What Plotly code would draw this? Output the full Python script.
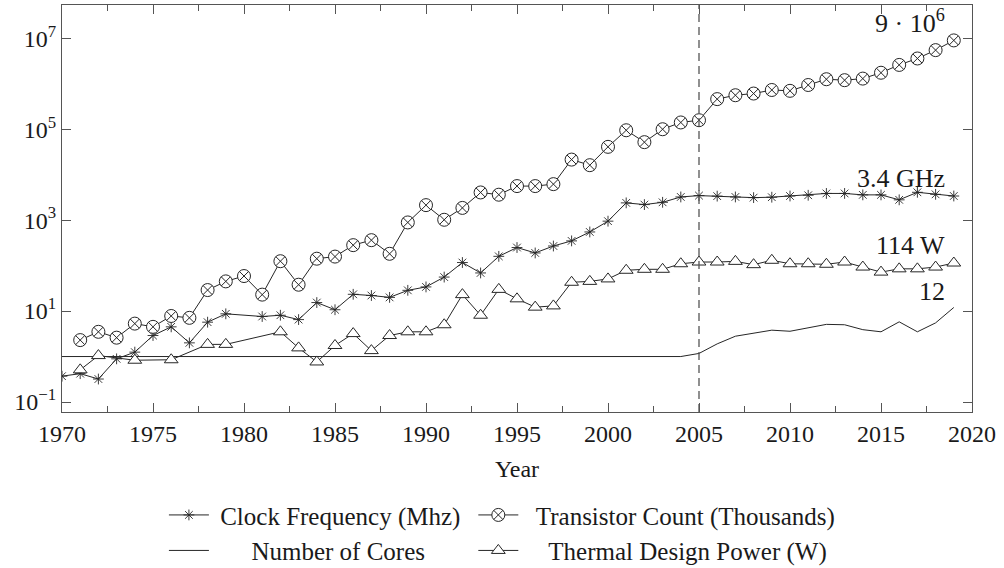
import plotly.graph_objects as go

# ---------------- data ----------------
years_transistor = list(range(1971, 2020))
transistor_count = [2.3, 3.5, 2.6, 5.3, 4.5, 7.8, 7.1, 29, 45, 59,
                    23, 125, 38, 142, 158, 282, 363, 182, 891, 2140,
                    1020, 1860, 4070, 3630, 5620, 5620, 6200, 21500, 16200, 41000,
                    95000, 52000, 100000, 141000, 158000, 460000, 560000, 610000, 730000, 700000,
                    940000, 1260000, 1200000, 1300000, 1750000, 2600000, 3600000, 5500000, 9000000]

years_clock = [1970, 1971, 1972, 1973, 1974, 1975, 1976, 1977, 1978, 1979,
               1981, 1982, 1983, 1984, 1985, 1986, 1987, 1988, 1989, 1990,
               1991, 1992, 1993, 1994, 1995, 1996, 1997, 1998, 1999, 2000,
               2001, 2002, 2003, 2004, 2005, 2006, 2007, 2008, 2009, 2010,
               2011, 2012, 2013, 2014, 2015, 2016, 2017, 2018, 2019]
clock_mhz = [0.37, 0.42, 0.32, 0.89, 1.25, 2.9, 4.5, 2.0, 5.7, 8.7,
             7.6, 8.1, 6.5, 15.4, 10.7, 23.4, 22, 20, 28.6, 34,
             56, 117, 69, 160, 250, 190, 270, 350, 550, 950,
             2400, 2200, 2470, 3240, 3470, 3380, 3240, 3130, 3200, 3400,
             3530, 3870, 3870, 3600, 3600, 2800, 4100, 3700, 3400]

years_tdp = [1971, 1972, 1974, 1976, 1978, 1979, 1982, 1983,
             1984, 1985, 1986, 1987, 1988, 1989, 1990, 1991, 1992, 1993,
             1994, 1995, 1996, 1997, 1998, 1999, 2000, 2001, 2002, 2003,
             2004, 2005, 2006, 2007, 2008, 2009, 2010, 2011, 2012, 2013,
             2014, 2015, 2016, 2017, 2018, 2019]
tdp_watts = [0.51, 1.05, 0.83, 0.85, 1.85, 1.85, 3.5, 1.55,
             0.76, 1.75, 3.2, 1.35, 2.9, 3.5, 3.5, 5.0, 23, 8.1,
             30, 18.6, 12.2, 13, 43, 45, 51, 79, 83, 83,
             110, 120, 120, 124, 105, 131, 110, 110, 107, 120,
             93, 72, 85, 85, 93, 114]

years_cores = list(range(1970, 2020))
cores = [1, 1, 1, 1, 1, 1, 1, 1, 1, 1,
         1, 1, 1, 1, 1, 1, 1, 1, 1, 1,
         1, 1, 1, 1, 1, 1, 1, 1, 1, 1,
         1, 1, 1, 1, 1, 1.17, 1.9, 2.8, 3.3, 3.8,
         3.6, 4.3, 5.1, 5.0, 3.9, 3.5, 5.8, 3.5, 5.5, 12]

series_names = ["Clock Frequency (Mhz)", "Transistor Count (Thousands)",
                "Number of Cores", "Thermal Design Power (W)"]
end_labels = ["9 · 10<sup>6</sup>", "3.4 GHz", "114 W", "12"]
end_label_years = [2018.6, 2018.6, 2018.6, 2018.6]
end_label_levels = [7.36, 3.92, 2.45, 1.43]   # log10 positions of the labels
divider_year = 2005

x_tickvals = [1970, 1975, 1980, 1985, 1990, 1995, 2000, 2005, 2010, 2015, 2020]
y_tickvals = [0.1, 10, 1000, 1e5, 1e7]
y_ticktext = ["10<sup>−1</sup>", "10<sup>1</sup>", "10<sup>3</sup>", "10<sup>5</sup>", "10<sup>7</sup>"]

# ---------------- figure ----------------
FONT = "Liberation Serif, DejaVu Serif"
INK = "#262626"
TXT = "#1a1a1a"
FRAME = "#555555"
NB = "\u00a0"
pad = [1, 2, 6, 4]   # legend label indents (non-breaking spaces)

fig = go.Figure()

fig.add_trace(go.Scatter(
    x=years_clock, y=clock_mhz, name=NB * pad[0] + series_names[0], mode="lines+markers",
    line=dict(color=INK, width=1), legend="legend",
    marker=dict(symbol="asterisk-open", size=9, color=INK, line=dict(color=INK, width=0.9)),
))
fig.add_trace(go.Scatter(
    x=years_transistor, y=transistor_count, name=NB * pad[1] + series_names[1], mode="lines+markers",
    line=dict(color=INK, width=1), legend="legend2",
    marker=dict(symbol="circle-x", size=13, color="white", line=dict(color=INK, width=1)),
))
fig.add_trace(go.Scatter(
    x=years_cores, y=cores, name=NB * pad[2] + series_names[2], mode="lines",
    line=dict(color=INK, width=1), legend="legend",
))
fig.add_trace(go.Scatter(
    x=years_tdp, y=tdp_watts, name=NB * pad[3] + series_names[3], mode="lines+markers",
    line=dict(color=INK, width=1), legend="legend2",
    marker=dict(symbol="triangle-up", size=12, color="white", line=dict(color=INK, width=1)),
))

fig.add_shape(type="line", xref="x", yref="paper", x0=divider_year, x1=divider_year,
              y0=0, y1=1, line=dict(color="#555555", width=1.3, dash="8px,5px"))

for txt, xx, yy in zip(end_labels, end_label_years, end_label_levels):
    fig.add_annotation(x=xx, y=yy, xref="x", yref="y", text=txt, showarrow=False,
                       xanchor="right", yanchor="middle",
                       font=dict(family=FONT, size=26, color=TXT))

legend_common = dict(orientation="v", yanchor="top", xanchor="left",
                     font=dict(family=FONT, size=25, color=TXT),
                     itemwidth=40, tracegroupgap=0, bgcolor="rgba(0,0,0,0)",
                     traceorder="normal")

fig.update_layout(
    width=1004, height=568,
    margin=dict(l=62, r=32, t=5, b=156, autoexpand=False),
    paper_bgcolor="white", plot_bgcolor="white",
    font=dict(family=FONT, size=24, color=TXT),
    showlegend=True,
    legend=dict(x=0.112, y=-0.197, **legend_common),
    legend2=dict(x=0.452, y=-0.197, **legend_common),
)

fig.update_xaxes(
    range=[1970, 2020], tickvals=x_tickvals, ticks="inside", ticklen=9,
    tickcolor=FRAME, tickwidth=1, automargin=False,
    minor=dict(dtick=2.5, tick0=1970, ticks="inside", ticklen=6, tickcolor=FRAME, tickwidth=1),
    showline=True, linecolor=FRAME, linewidth=1, mirror="ticks",
    showgrid=False, zeroline=False,
    tickfont=dict(family=FONT, size=24, color=TXT),
    title=dict(text="Year", standoff=14, font=dict(family=FONT, size=24, color=TXT)),
)
fig.update_yaxes(
    type="log", range=[-1.22, 7.733], tickvals=y_tickvals, ticktext=y_ticktext,
    ticks="inside", ticklen=9, tickcolor=FRAME, tickwidth=1, automargin=False,
    showline=True, linecolor=FRAME, linewidth=1, mirror="ticks",
    showgrid=False, zeroline=False,
    tickfont=dict(family=FONT, size=24, color=TXT),
)

fig.write_html("out.html", config={"displayModeBar": False},
               post_script="document.body.style.margin='0';")
